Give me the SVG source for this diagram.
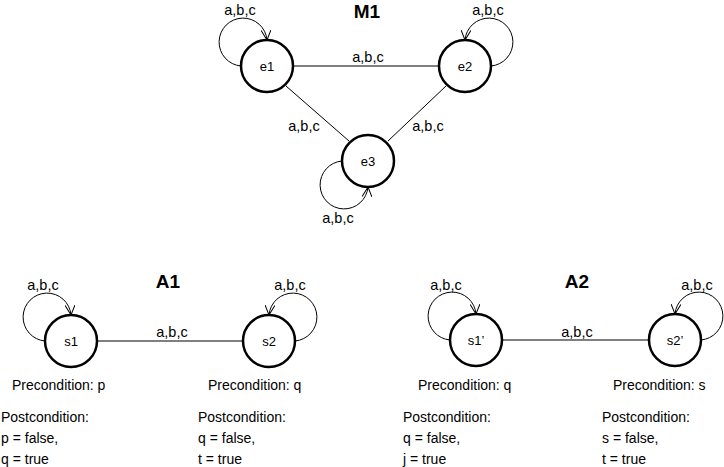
<svg xmlns="http://www.w3.org/2000/svg" width="724" height="467" viewBox="0 0 724 467">
<style>
.node{fill:#fff;stroke:#000;stroke-width:2.5}
.edge{fill:none;stroke:#000;stroke-width:1}
.loop{fill:none;stroke:#000;stroke-width:1;marker-end:url(#arr)}
.lbl{font-family:"Liberation Sans",Arial,sans-serif;font-size:14.5px;fill:#000;text-anchor:middle}
.nl{font-family:"Liberation Sans",Arial,sans-serif;font-size:13px;fill:#000;text-anchor:middle}
.ttl{font-family:"Liberation Sans",Arial,sans-serif;font-size:19px;font-weight:bold;fill:#000;text-anchor:middle}
.txt{font-family:"Liberation Sans",Arial,sans-serif;font-size:14px;fill:#000}
</style>
<defs>
<marker id="arr" viewBox="0 0 10 10" refX="10" refY="5" markerWidth="10" markerHeight="10" markerUnits="userSpaceOnUse" orient="auto">
<path d="M0,0 L10,5 L0,10" fill="none" stroke="#000" stroke-width="1"/>
</marker>
</defs>
<rect width="724" height="467" fill="#fff"/>
<g id="titles">
<text class="ttl" x="367" y="18">M1</text>
<text class="ttl" x="168" y="288">A1</text>
<text class="ttl" x="577" y="288">A2</text>
</g>
<g id="connectors">
<line class="edge" x1="293" y1="66" x2="439" y2="66"/>
<line class="edge" x1="286" y1="86" x2="349" y2="141"/>
<line class="edge" x1="446" y1="86" x2="388" y2="141"/>
<line class="edge" x1="97" y1="341" x2="243" y2="341"/>
<line class="edge" x1="502" y1="340" x2="649" y2="340"/>
<path class="loop" d="M241,66 A24,24 0 1 1 267,40"/>
<path class="loop" d="M491,66 A24,24 0 1 0 465,40"/>
<path class="loop" d="M342,161 A24,24 0 1 0 368,187"/>
<path class="loop" d="M45,341 A24,24 0 1 1 71,315"/>
<path class="loop" d="M295,341 A24,24 0 1 0 269,315"/>
<path class="loop" d="M450,340 A24,24 0 1 1 476,314"/>
<path class="loop" d="M701,340 A24,24 0 1 0 675,314"/>
<text class="lbl" x="240" y="15">a,b,c</text>
<text class="lbl" x="488" y="15">a,b,c</text>
<text class="lbl" x="368" y="62">a,b,c</text>
<text class="lbl" x="304" y="131">a,b,c</text>
<text class="lbl" x="428" y="131">a,b,c</text>
<text class="lbl" x="338" y="223">a,b,c</text>
<text class="lbl" x="43" y="290">a,b,c</text>
<text class="lbl" x="290" y="290">a,b,c</text>
<text class="lbl" x="172" y="337">a,b,c</text>
<text class="lbl" x="446" y="290">a,b,c</text>
<text class="lbl" x="697" y="290">a,b,c</text>
<text class="lbl" x="577" y="337">a,b,c</text>
</g>
<g id="e1"><circle class="node" cx="267" cy="66" r="26"/><text class="nl" x="267" y="71">e1</text></g>
<g id="e2"><circle class="node" cx="465" cy="66" r="26"/><text class="nl" x="465" y="71">e2</text></g>
<g id="e3"><circle class="node" cx="368" cy="161" r="26"/><text class="nl" x="368" y="166">e3</text></g>
<g id="s1"><circle class="node" cx="71" cy="341" r="26"/><text class="nl" x="71" y="346">s1</text></g>
<g id="s2"><circle class="node" cx="269" cy="341" r="26"/><text class="nl" x="269" y="346">s2</text></g>
<g id="s1p"><circle class="node" cx="476" cy="340" r="26"/><text class="nl" x="476" y="345">s1’</text></g>
<g id="s2p"><circle class="node" cx="675" cy="340" r="26"/><text class="nl" x="675" y="345">s2’</text></g>
<g id="conditions">
<text class="txt" x="12" y="390">Precondition: p</text>
<text class="txt" x="1" y="422">Postcondition:</text>
<text class="txt" x="1" y="443">p = false,</text>
<text class="txt" x="1" y="464">q = true</text>
<text class="txt" x="208" y="390">Precondition: q</text>
<text class="txt" x="198" y="422">Postcondition:</text>
<text class="txt" x="198" y="443">q = false,</text>
<text class="txt" x="198" y="464">t = true</text>
<text class="txt" x="418" y="390">Precondition: q</text>
<text class="txt" x="403" y="422">Postcondition:</text>
<text class="txt" x="403" y="443">q = false,</text>
<text class="txt" x="403" y="464">j = true</text>
<text class="txt" x="613" y="390">Precondition: s</text>
<text class="txt" x="602" y="422">Postcondition:</text>
<text class="txt" x="602" y="443">s = false,</text>
<text class="txt" x="602" y="464">t = true</text>
</g>
</svg>
